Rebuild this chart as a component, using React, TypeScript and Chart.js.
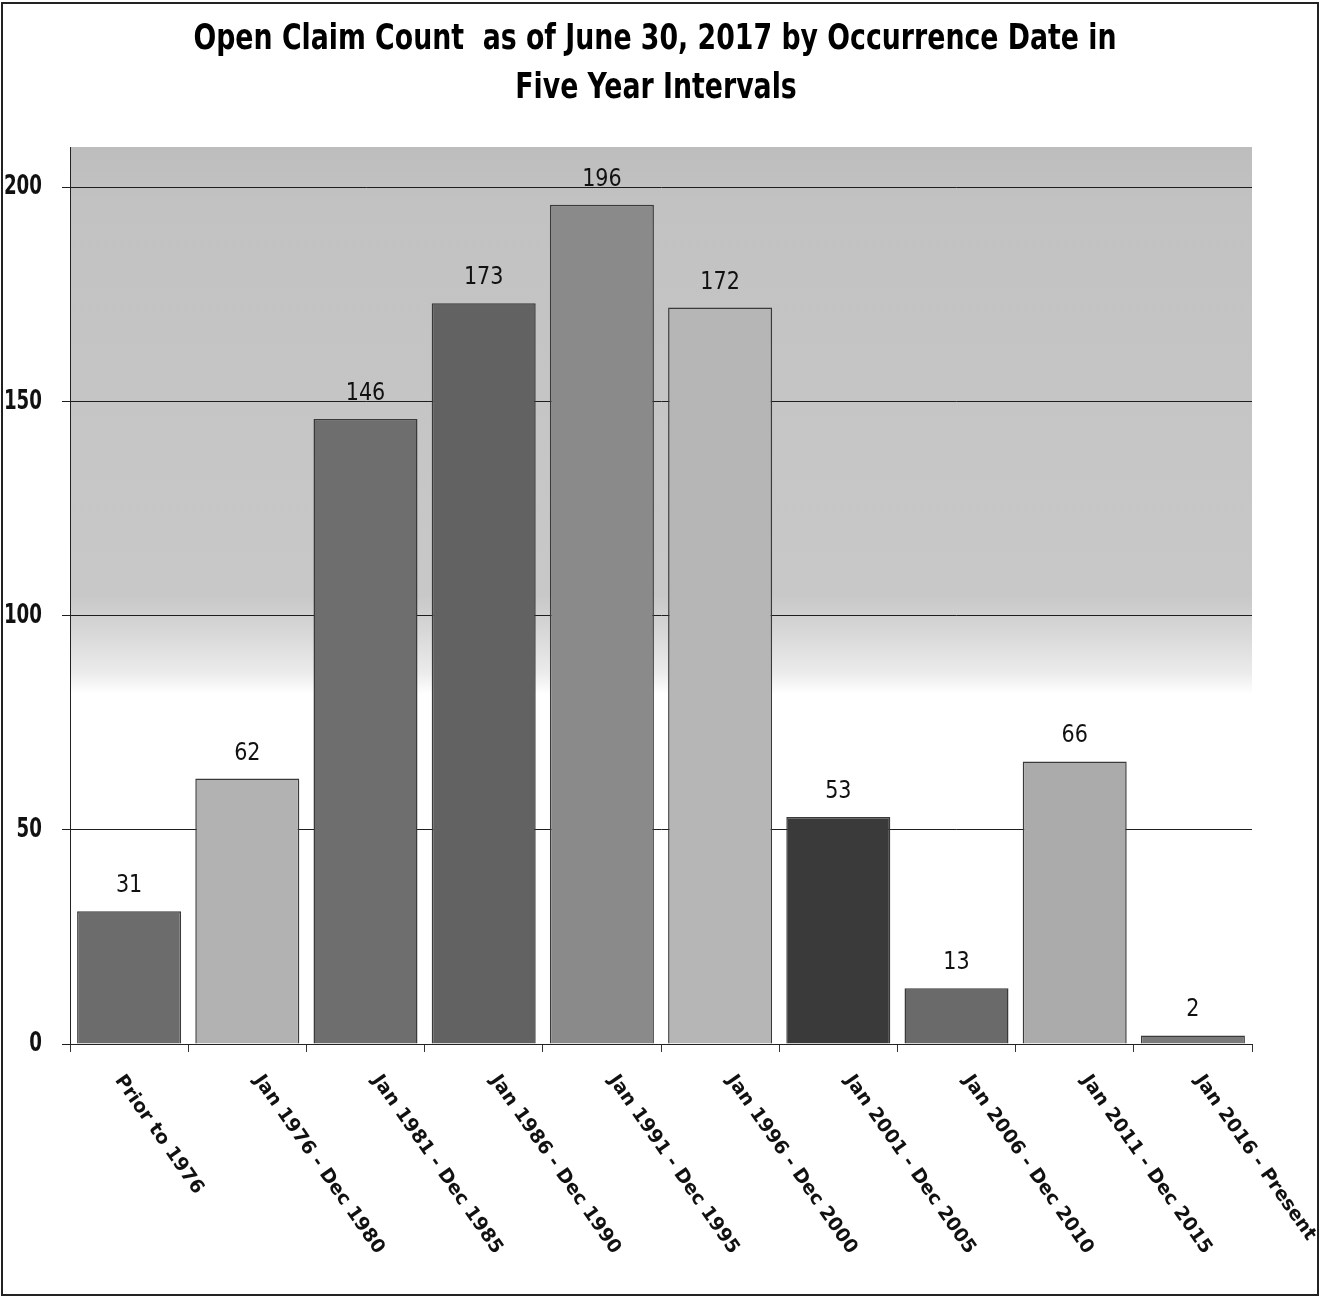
import React, { useEffect, useRef } from "react";
import { Chart, registerables } from "chart.js";

Chart.register(...registerables);

const categories = [
  "Prior to 1976",
  "Jan 1976 - Dec 1980",
  "Jan 1981 - Dec 1985",
  "Jan 1986 - Dec 1990",
  "Jan 1991 - Dec 1995",
  "Jan 1996 - Dec 2000",
  "Jan 2001 - Dec 2005",
  "Jan 2006 - Dec 2010",
  "Jan 2011 - Dec 2015",
  "Jan 2016 - Present",
];
const counts = [31, 62, 146, 173, 196, 172, 53, 13, 66, 2];
const barColors = [
  "#6c6c6c",
  "#b2b2b2",
  "#6e6e6e",
  "#626262",
  "#8a8a8a",
  "#b6b6b6",
  "#3a3a3a",
  "#6a6a6a",
  "#ababab",
  "#7a7a7a",
];
const yTicks = [0, 50, 100, 150, 200];
const yMax = 209.5;
const titleLines = [
  "Open Claim Count  as of June 30, 2017 by Occurrence Date in",
  "Five Year Intervals",
];

const COND = '"DejaVu Sans Condensed", "Liberation Sans Narrow", "DejaVu Sans", sans-serif';
const LABEL_FONT = '"DejaVu Sans", Verdana, sans-serif';

function squeezedText(ctx: any, text: string, x: number, y: number, sx: number, align: string) {
  ctx.save();
  ctx.translate(x, y);
  ctx.scale(sx, 1);
  ctx.textAlign = align;
  ctx.fillText(text, 0, 0);
  ctx.restore();
}

const decorPlugin = {
  id: "decor",
  beforeDraw(chart: any) {
    const { ctx, chartArea } = chart;
    const { left, right, top, bottom } = chartArea;
    ctx.save();
    ctx.fillStyle = "#ffffff";
    ctx.fillRect(0, 0, chart.width, chart.height);
    const endY = top + (bottom - top) * 0.61;
    const g = ctx.createLinearGradient(0, top, 0, endY);
    g.addColorStop(0, "#bdbdbd");
    g.addColorStop(0.1, "#c2c2c2");
    g.addColorStop(0.82, "#c8c8c8");
    g.addColorStop(0.88, "#d6d6d6");
    g.addColorStop(0.96, "#ebebeb");
    g.addColorStop(1, "#ffffff");
    ctx.fillStyle = g;
    ctx.fillRect(left, top, right - left, endY - top);
    ctx.restore();
  },
  afterDraw(chart: any) {
    const { ctx, chartArea } = chart;
    const xScale = chart.scales.x;
    const yScale = chart.scales.y;
    ctx.save();
    // y tick labels
    ctx.fillStyle = "#111";
    ctx.font = `bold 26px ${COND}`;
    ctx.textBaseline = "middle";
    yTicks.forEach((v) => {
      const y = yScale.getPixelForValue(v);
      squeezedText(ctx, String(v), chartArea.left - 28, y, 0.78, "right");
    });
    // value labels
    ctx.fillStyle = "#111";
    ctx.font = `25px ${COND}`;
    ctx.textBaseline = "alphabetic";
    counts.forEach((v, i) => {
      const x = xScale.getPixelForValue(i);
      const y = yScale.getPixelForValue(v);
      squeezedText(ctx, String(v), x, y - 19, 0.92, "center");
    });
    // rotated category labels
    ctx.font = `bold 19px ${LABEL_FONT}`;
    ctx.textAlign = "left";
    ctx.textBaseline = "alphabetic";
    const ang = (55 * Math.PI) / 180;
    categories.forEach((c, i) => {
      const cx = xScale.getPixelForValue(i);
      const w = ctx.measureText(c).width;
      const ox = cx + 0.287 * w - 55;
      const oy = chartArea.bottom + 36;
      ctx.save();
      ctx.translate(ox, oy);
      ctx.rotate(ang);
      ctx.fillText(c, 0, 0);
      ctx.restore();
    });
    // title
    ctx.font = `bold 35px ${COND}`;
    ctx.fillStyle = "#000";
    ctx.textBaseline = "alphabetic";
    squeezedText(ctx, titleLines[0], 655, 49, 0.85, "center");
    squeezedText(ctx, titleLines[1], 656, 98, 0.85, "center");
    // frame
    ctx.strokeStyle = "#222";
    ctx.lineWidth = 2;
    ctx.strokeRect(2, 3, chart.width - 4, chart.height - 5);
    ctx.restore();
  },
};

export default function App() {
  const ref = useRef<HTMLCanvasElement>(null);
  useEffect(() => {
    document.body.style.margin = "0";
    const chart = new Chart(ref.current!, {
      type: "bar",
      data: {
        labels: categories,
        datasets: [
          {
            data: counts,
            backgroundColor: barColors,
            borderColor: "#3a3a3a",
            borderWidth: 1.5,
            categoryPercentage: 1,
            barPercentage: 0.88,
          },
        ],
      },
      options: {
        animation: false,
        responsive: false,
        devicePixelRatio: 1,
        layout: { padding: { top: 147, left: 0, right: 68, bottom: 0 } },
        plugins: {
          legend: { display: false },
          tooltip: { enabled: false },
          title: { display: false },
        },
        scales: {
          x: {
            offset: true,
            grid: {
              display: true,
              offset: true,
              drawOnChartArea: false,
              drawTicks: true,
              tickLength: 8,
              color: "#333",
            },
            border: { display: true, color: "#222", width: 1 },
            ticks: { display: false },
            afterFit: (s: any) => {
              s.height = 253;
            },
          },
          y: {
            min: 0,
            max: yMax,
            afterBuildTicks: (s: any) => {
              s.ticks = yTicks.map((v) => ({ value: v }));
            },
            grid: {
              color: "#1e1e1e",
              lineWidth: 1,
              drawTicks: true,
              tickLength: 8,
            },
            border: { display: true, color: "#222", width: 1 },
            ticks: { display: false },
            afterFit: (s: any) => {
              s.width = 70;
            },
          },
        },
      },
      plugins: [decorPlugin],
    } as any);
    return () => chart.destroy();
  }, []);
  return (
    <div style={{ position: "absolute", left: 0, top: 0, width: 1320, height: 1297 }}>
      <canvas ref={ref} width={1320} height={1297} />
    </div>
  );
}
